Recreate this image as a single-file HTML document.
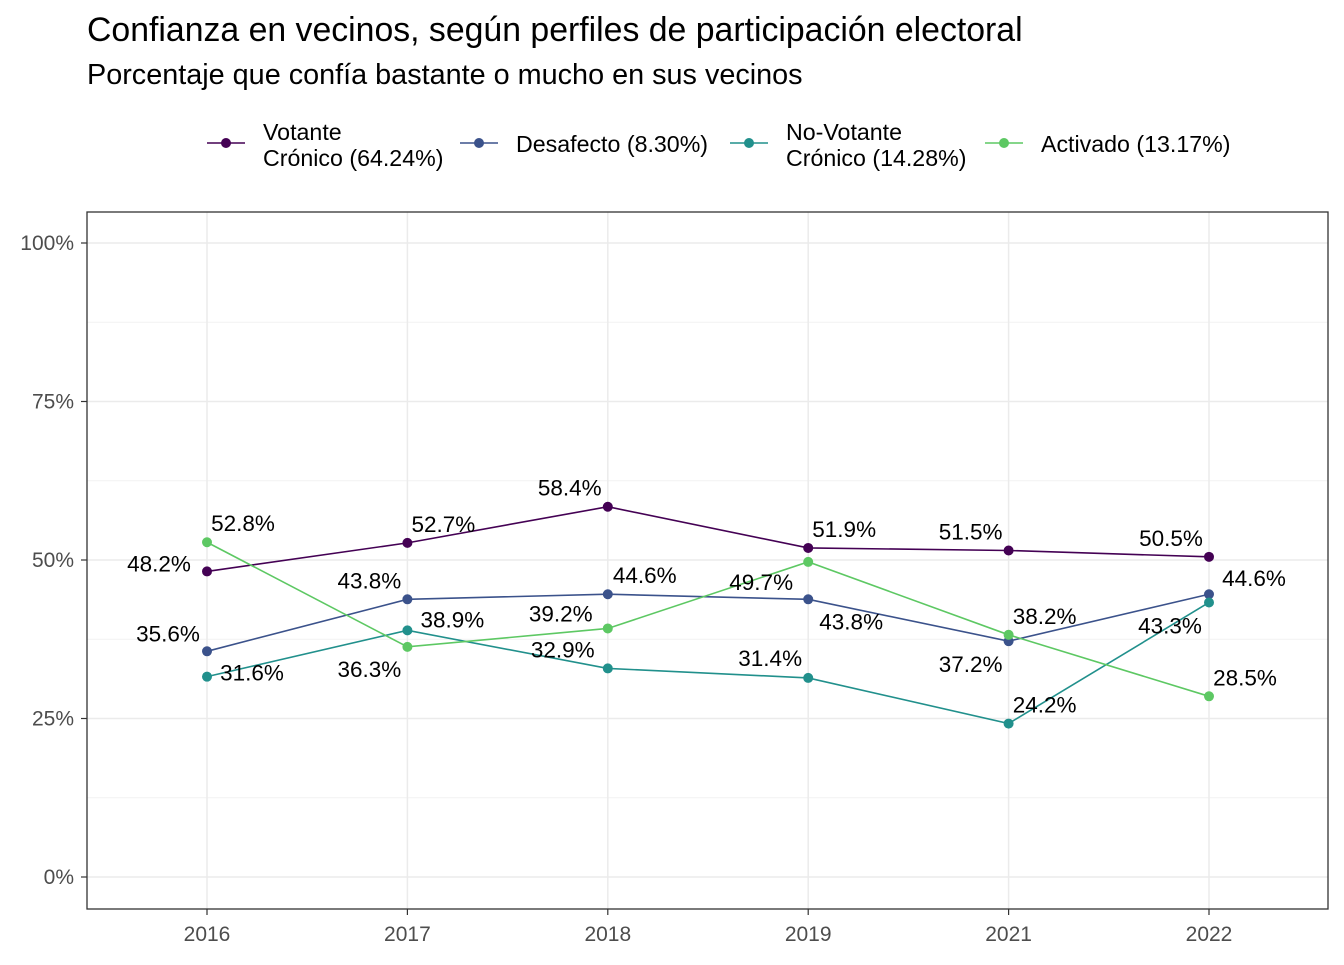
<!DOCTYPE html>
<html><head><meta charset="utf-8"><style>
body{margin:0;background:#fff;}
svg text{font-family:"Liberation Sans",Arial,sans-serif;}
</style></head><body>
<svg width="1344" height="960" viewBox="0 0 1344 960">
<text x="87" y="41" font-size="33.8" fill="#000">Confianza en vecinos, según perfiles de participación electoral</text>
<text x="87" y="84" font-size="28.8" fill="#000">Porcentaje que confía bastante o mucho en sus vecinos</text>
<g id="legend"></g>
<g id="grid"></g>
<g id="series"></g>
<g id="labels"></g>
<rect x="87" y="212" width="1241" height="697" fill="none" stroke="#333" stroke-width="1.3"/>
<g id="axes"></g>
</svg>
<script>
const years=["2016","2017","2018","2019","2021","2022"];
const votante=[48.2,52.7,58.4,51.9,51.5,50.5];
const desafecto=[35.6,43.8,44.6,43.8,37.2,44.6];
const noVotante=[31.6,38.9,32.9,31.4,24.2,43.3];
const activado=[52.8,36.3,39.2,49.7,38.2,28.5];
const yTicks=[0,25,50,75,100];
const seriesNames=["Votante\nCrónico (64.24%)","Desafecto (8.30%)","No-Votante\nCrónico (14.28%)","Activado (13.17%)"];
const colors=["#440154","#3B528B","#21908C","#5DC863"];
const offsets=[
 [[-48,-8],[36,-19],[-38,-19],[36,-19],[-38,-19],[-38,-19]],
 [[-39,-18],[-38,-19],[37,-19],[43,22],[-38,23],[45,-16]],
 [[45,-4],[45,-11],[-45,-19],[-38,-20],[36,-19],[-39,23]],
 [[36,-19],[-38,22],[-47,-15],[-47,20],[36,-19],[36,-19]]];
const NS="http://www.w3.org/2000/svg";
const X=i=>207+i*200.4;
const Y=v=>877-v*6.34;
function mk(tag,attrs,parent){const e=document.createElementNS(NS,tag);for(const k in attrs)e.setAttribute(k,attrs[k]);parent.appendChild(e);return e;}
const grid=document.getElementById('grid'),axes=document.getElementById('axes');
for(let v=12.5;v<=112.5;v+=25){if(Y(v)>212){const l=mk('line',{x1:87,x2:1328,y1:Y(v),y2:Y(v),stroke:'#f2f2f2','stroke-width':1},grid);

}}
yTicks.forEach(v=>{const l=mk('line',{x1:87,x2:1328,y1:Y(v),y2:Y(v),stroke:'#ebebeb','stroke-width':1.5},grid);


const tk=mk('line',{x1:81,x2:87,y1:Y(v),y2:Y(v),stroke:'#333','stroke-width':1.2},axes);


const t=mk('text',{x:74,y:Y(v)+7,'font-size':21,fill:'#4d4d4d','text-anchor':'end'},axes);t.textContent=v+'%';

});
years.forEach((yr,i)=>{const l=mk('line',{x1:X(i),x2:X(i),y1:212,y2:909,stroke:'#ebebeb','stroke-width':1.5},grid);


const tk=mk('line',{x1:X(i),x2:X(i),y1:909,y2:915,stroke:'#333','stroke-width':1.2},axes);


const t=mk('text',{x:X(i),y:941,'font-size':21,fill:'#4d4d4d','text-anchor':'middle'},axes);t.textContent=yr;

});
const data=[votante,desafecto,noVotante,activado];
const sg=document.getElementById('series'),lg=document.getElementById('labels');
data.forEach((s,k)=>{const p=mk('polyline',{points:s.map((v,i)=>X(i)+','+Y(v)).join(' '),fill:'none',stroke:colors[k],'stroke-width':1.6},sg);


s.forEach((v,i)=>{const c=mk('circle',{cx:X(i),cy:Y(v),r:5,fill:colors[k]},sg);


const t=mk('text',{x:X(i)+offsets[k][i][0],y:Y(v)+offsets[k][i][1]+8,'font-size':22.5,fill:'#000','text-anchor':'middle'},lg);t.textContent=v.toFixed(1)+'%';

});});
const leg=document.getElementById('legend');
const lx=[207,460,730,985];
seriesNames.forEach((n,k)=>{const g=mk('g',{},leg);


mk('line',{x1:lx[k],x2:lx[k]+38,y1:143,y2:143,stroke:colors[k],'stroke-width':1.6},g);
mk('circle',{cx:lx[k]+19,cy:143,r:5,fill:colors[k]},g);
const parts=n.split('\n');
parts.forEach((p,j)=>{const t=mk('text',{x:lx[k]+56,y:parts.length>1?140+j*26:152,'font-size':23.2,fill:'#000'},g);t.textContent=p;});});
</script>
</body></html>
